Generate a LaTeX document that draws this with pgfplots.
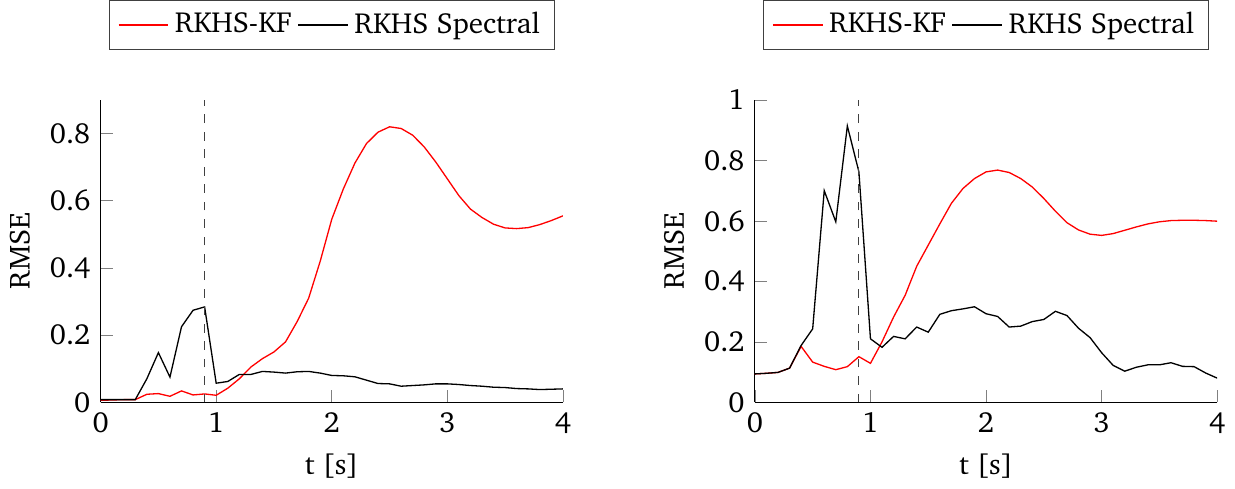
\documentclass[border=0pt]{standalone}
\usepackage[T1]{fontenc}
\usepackage{charter}
\usepackage{pgfplots}
\pgfplotsset{compat=1.18}

\pgfplotsset{
  rmseplot/.style={
    scale only axis,
    width=159pt, height=104pt,
    axis lines*=left,
    xmin=0, xmax=4,
    ymin=0,
    xtick={0,1,2,3,4},
    xlabel={t [s]},
    ylabel={RMSE},
    /pgf/number format/assume math mode=true,
    legend columns=2,
    legend image post style={line width=0.5pt},
    legend style={at={(0.5,1.164)}, anchor=south, draw=black!75,
      /tikz/every even column/.append style={column sep=0pt}},
  },
}

\begin{document}
\begin{tikzpicture}
% left panel
\begin{axis}[rmseplot, ymax=0.9, ytick={0,0.2,0.4,0.6,0.8}]
\addplot[red, line width=0.45pt] coordinates {
(0,0.006) (0.1,0.007) (0.2,0.008) (0.3,0.008) (0.4,0.024) (0.5,0.026)
(0.6,0.018) (0.7,0.034) (0.8,0.022) (0.9,0.025) (1.0,0.021) (1.1,0.042)
(1.2,0.07) (1.3,0.105) (1.4,0.13) (1.5,0.15) (1.6,0.18) (1.7,0.24)
(1.8,0.31) (1.9,0.42) (2.0,0.545) (2.1,0.635) (2.2,0.712) (2.3,0.77)
(2.4,0.804) (2.5,0.82) (2.6,0.815) (2.7,0.795) (2.8,0.76) (2.9,0.715)
(3.0,0.665) (3.1,0.615) (3.2,0.575) (3.3,0.55) (3.4,0.53) (3.5,0.519)
(3.6,0.517) (3.7,0.52) (3.8,0.529) (3.9,0.541) (4.0,0.555)};
\addlegendentry{RKHS-KF}
\addplot[black, line width=0.45pt] coordinates {
(0,0.008) (0.1,0.008) (0.2,0.008) (0.3,0.008) (0.4,0.07) (0.5,0.148)
(0.6,0.075) (0.7,0.225) (0.8,0.274) (0.9,0.284) (1.0,0.057) (1.1,0.062)
(1.2,0.083) (1.3,0.083) (1.4,0.092) (1.5,0.09) (1.6,0.087) (1.7,0.091)
(1.8,0.092) (1.9,0.087) (2.0,0.08) (2.1,0.079) (2.2,0.076) (2.3,0.066)
(2.4,0.056) (2.5,0.055) (2.6,0.048) (2.7,0.05) (2.8,0.052) (2.9,0.055)
(3.0,0.055) (3.1,0.053) (3.2,0.05) (3.3,0.048) (3.4,0.045) (3.5,0.044)
(3.6,0.041) (3.7,0.04) (3.8,0.038) (3.9,0.039) (4.0,0.04)};
\addlegendentry{RKHS Spectral}
\addplot[black!75, dashed, thin, forget plot] coordinates {(0.9,0) (0.9,0.9)};
\end{axis}

% right panel
\begin{axis}[rmseplot, xshift=225pt, ymax=1, ytick={0,0.2,0.4,0.6,0.8,1}]
\addplot[red, line width=0.45pt] coordinates {
(0,0.094) (0.1,0.096) (0.2,0.099) (0.3,0.113) (0.4,0.185) (0.5,0.133)
(0.6,0.119) (0.7,0.108) (0.8,0.118) (0.9,0.151) (1.0,0.129) (1.1,0.2)
(1.2,0.282) (1.3,0.354) (1.4,0.45) (1.5,0.52) (1.6,0.59) (1.7,0.658)
(1.8,0.707) (1.9,0.74) (2.0,0.762) (2.1,0.768) (2.2,0.76) (2.3,0.74)
(2.4,0.712) (2.5,0.674) (2.6,0.632) (2.7,0.594) (2.8,0.57) (2.9,0.556)
(3.0,0.552) (3.1,0.558) (3.2,0.569) (3.3,0.58) (3.4,0.59) (3.5,0.597)
(3.6,0.601) (3.7,0.602) (3.8,0.602) (3.9,0.601) (4.0,0.599)};
\addlegendentry{RKHS-KF}
\addplot[black, line width=0.45pt] coordinates {
(0,0.094) (0.1,0.096) (0.2,0.099) (0.3,0.113) (0.4,0.188) (0.5,0.243)
(0.6,0.70) (0.7,0.597) (0.8,0.914) (0.9,0.762) (1.0,0.21) (1.1,0.182)
(1.2,0.218) (1.3,0.21) (1.4,0.249) (1.5,0.232) (1.6,0.291) (1.7,0.303)
(1.8,0.309) (1.9,0.316) (2.0,0.293) (2.1,0.284) (2.2,0.249) (2.3,0.252)
(2.4,0.267) (2.5,0.274) (2.6,0.301) (2.7,0.287) (2.8,0.245) (2.9,0.214)
(3.0,0.164) (3.1,0.122) (3.2,0.103) (3.3,0.116) (3.4,0.124) (3.5,0.124)
(3.6,0.131) (3.7,0.119) (3.8,0.118) (3.9,0.097) (4.0,0.08)};
\addlegendentry{RKHS Spectral}
\addplot[black!75, dashed, thin, forget plot] coordinates {(0.9,0) (0.9,1)};
\end{axis}
\end{tikzpicture}
\end{document}
